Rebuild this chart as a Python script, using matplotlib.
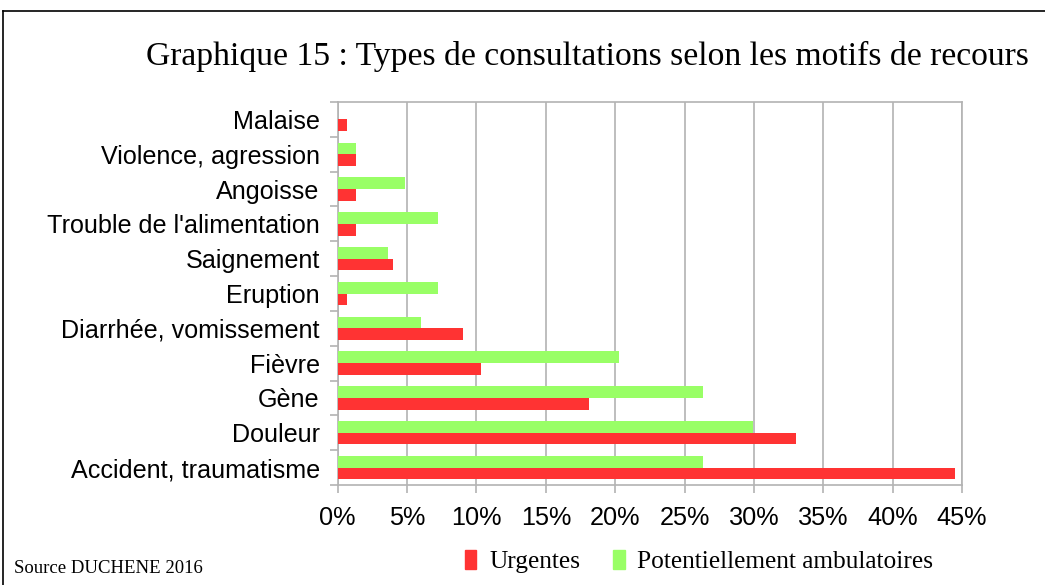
import numpy as np
import matplotlib.pyplot as plt
from matplotlib.lines import Line2D
from matplotlib.patches import Patch

categories = ["Accident, traumatisme", "Douleur", "Gène", "Fièvre",
              "Diarrhée, vomissement", "Eruption", "Saignement",
              "Trouble de l'alimentation", "Angoisse", "Violence, agression",
              "Malaise"]
urgentes = [44.5, 33.0, 18.1, 10.3, 9.0, 0.65, 3.95, 1.35, 1.35, 1.35, 0.65]
ambulatoires = [26.3, 29.9, 26.3, 20.3, 6.0, 7.2, 3.65, 7.2, 4.85, 1.3, 0.0]
xticks = [0, 5, 10, 15, 20, 25, 30, 35, 40, 45]

red = '#ff3333'
green = '#99ff66'
grey = '#b3b3b3'

fig = plt.figure(figsize=(10.45, 5.85), dpi=100)
ax = fig.add_axes([0.3232, 0.1709, 0.9206 - 0.3232, 0.8256 - 0.1709])

y = np.arange(len(categories))
h = 0.336
ax.barh(y - h / 2, urgentes, height=h, color=red, zorder=3)
ax.barh(y + h / 2, ambulatoires, height=h, color=green, zorder=3)

ax.set_xlim(0, 45)
ax.set_ylim(-0.5, len(categories) - 0.5)
ax.set_xticks(xticks)
ax.set_xticklabels([f"{v}%" for v in xticks], fontsize=18.2, family='Liberation Sans')
ax.set_yticks(y)
ax.set_yticklabels(categories, fontsize=18.1, family='Liberation Sans')
ax.set_yticks(np.arange(-0.5, len(categories)), minor=True)
ax.tick_params(axis='y', which='major', length=0, pad=13)
ax.tick_params(axis='y', which='minor', length=6, color=grey, width=1.2)
ax.tick_params(axis='x', length=6, color=grey, width=1.2, pad=9)
ax.grid(axis='x', color=grey, linewidth=1.2, zorder=0)
for s in ax.spines.values():
    s.set_color(grey)
    s.set_linewidth(1.2)

fig.text(0.562, 0.903, "Graphique 15 : Types de consultations selon les motifs de recours",
         ha='center', va='center', fontsize=24.2, family='Liberation Serif')
fig.text(0.013, 0.029, "Source DUCHENE 2016", ha='left', va='center',
         fontsize=13.5, family='Liberation Serif')

handles = [Patch(color=red, label='Urgentes'),
           Patch(color=green, label='Potentiellement ambulatoires')]
fig.legend(handles=handles, loc='center', bbox_to_anchor=(0.669, 0.04),
           ncol=2, frameon=False, prop={'family': 'Liberation Serif', 'size': 18.3},
           handlelength=0.45, handleheight=0.8, handletextpad=0.5, columnspacing=1.3)

# frame lines of the original page
fig.add_artist(Line2D([0.003, 0.003], [0, 0.981], color='black', lw=1.2))
fig.add_artist(Line2D([0.003, 1], [0.981, 0.981], color='black', lw=1.2))

plt.savefig("out.png", dpi=100)
plt.close()
